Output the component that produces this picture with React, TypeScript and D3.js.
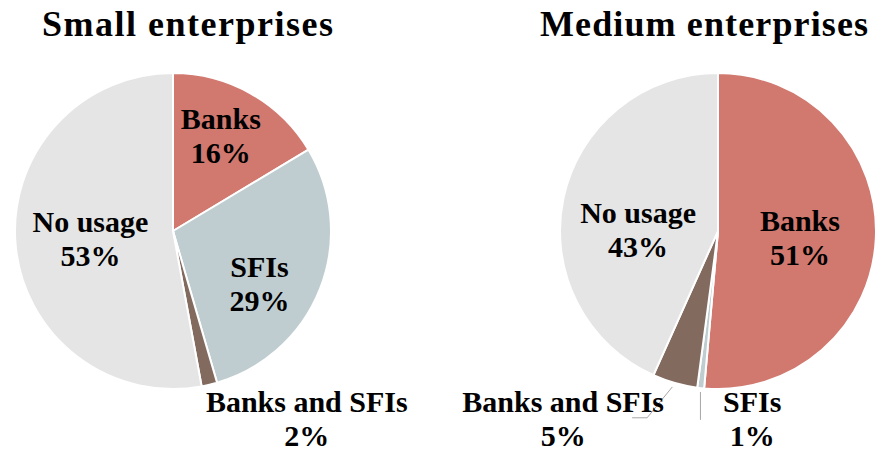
import React from "react";
import * as d3 from "d3";

const categories = ["Banks", "SFIs", "Banks and SFIs", "No usage"];
const smallValues = [16.4, 29.1, 1.6, 52.9];
const mediumValues = [51.4, 0.7, 4.6, 43.3];
const titles = ["Small enterprises", "Medium enterprises"];

const COLORS = ["#D1786F", "#BFCDD0", "#826A5E", "#E5E5E5"];
const FONT = "'Liberation Serif', 'Times New Roman', serif";
const W = 883;
const H = 452;
const R = 158;

type PieCfg = {
  values: number[];
  title: string;
  cx: number;
  cy: number;
  titleX: number;
  titleLen: number;
  outside: boolean[];
  nudges: [number, number][];
  leaders: (null | "elbow" | "vertical")[];
};

const pies: PieCfg[] = [
  {
    values: smallValues,
    title: titles[0],
    cx: 173,
    cy: 231,
    titleX: 187.5,
    titleLen: 291,
    outside: [false, false, true, false],
    nudges: [[1, -12], [-2, 18], [90, 3], [12, -1]],
    leaders: [null, null, null, null],
  },
  {
    values: mediumValues,
    title: titles[1],
    cx: 718,
    cy: 231,
    titleX: 704,
    titleLen: 328,
    outside: [false, true, true, false],
    nudges: [[-13, 3], [55, -1], [-103, 5], [13, 19]],
    leaders: [null, "vertical", "elbow", null],
  },
];

function Pie({ cfg }: { cfg: PieCfg }) {
  const pie = d3.pie<number>().sort(null).value((d) => d);
  const arcs = pie(cfg.values);
  const arc = d3.arc<d3.PieArcDatum<number>>().innerRadius(0).outerRadius(R);
  const inLabel = d3.arc<d3.PieArcDatum<number>>().innerRadius(95).outerRadius(95);
  const outLabel = d3.arc<d3.PieArcDatum<number>>().innerRadius(190).outerRadius(190);
  const edge = d3.arc<d3.PieArcDatum<number>>().innerRadius(R + 2).outerRadius(R + 2);

  return (
    <g>
      <text
        x={cfg.titleX}
        y={36}
        textAnchor="middle"
        fontFamily={FONT}
        fontWeight="bold"
        fontSize={36}
        textLength={cfg.titleLen}
        lengthAdjust="spacing"
        fill="#000"
      >
        {cfg.title}
      </text>
      <g transform={`translate(${cfg.cx},${cfg.cy})`}>
        {arcs.map((a, i) => (
          <path key={i} d={arc(a) || ""} fill={COLORS[i]} stroke="#fff" strokeWidth={2} strokeLinejoin="round" />
        ))}
        {arcs.map((a, i) => {
          const [bx, by] = cfg.outside[i] ? outLabel.centroid(a) : inLabel.centroid(a);
          const lx = bx + cfg.nudges[i][0];
          const ly = by + cfg.nudges[i][1];
          const pct = `${Math.round(cfg.values[i])}%`;
          let leader: React.ReactNode = null;
          const [ex, ey] = edge.centroid(a);
          if (cfg.leaders[i] === "vertical") {
            leader = <line x1={ex} y1={ey + 2} x2={ex} y2={ly + 1} stroke="#A6A6A6" strokeWidth={1} />;
          } else if (cfg.leaders[i] === "elbow") {
            const kx = lx + 84;
            const ky = ly - 1;
            leader = (
              <polyline
                points={`${ex - 2},${ey + 2} ${kx},${ky} ${kx - 15},${ky}`}
                fill="none"
                stroke="#A6A6A6"
                strokeWidth={1}
              />
            );
          }
          return (
            <g key={"l" + i}>
              {leader}
              <text
                x={lx}
                textAnchor="middle"
                fontFamily={FONT}
                fontWeight="bold"
                fontSize={30}
                fill="#000"
              >
                <tspan x={lx} y={ly - 7}>{categories[i]}</tspan>
                <tspan x={lx} y={ly + 27}>{pct}</tspan>
              </text>
            </g>
          );
        })}
      </g>
    </g>
  );
}

export default function App() {
  return (
    <div style={{ position: "absolute", left: 0, top: 0 }}>
      <svg width={W} height={H} viewBox={`0 0 ${W} ${H}`} style={{ display: "block", background: "#fff" }}>
        {pies.map((p, i) => (
          <Pie key={i} cfg={p} />
        ))}
      </svg>
    </div>
  );
}
